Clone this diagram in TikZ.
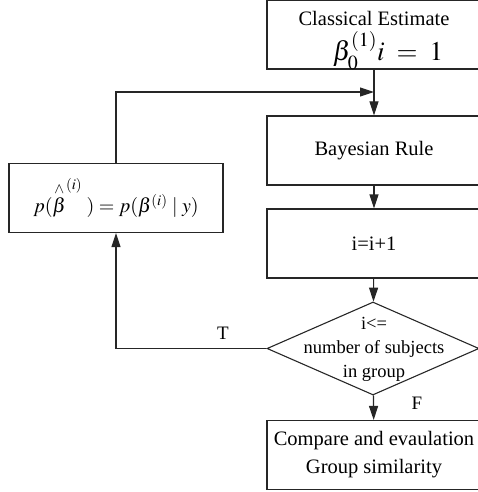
\documentclass[tikz,border=0pt]{standalone}
\usepackage{amsmath}
\usepackage{mathptmx}
\usepackage[no-math]{fontspec}
\setmainfont{Liberation Serif}
\usepackage{tikz}
\usetikzlibrary{
    arrows.meta,
    shapes.geometric,
    positioning,
}

\begin{document}
\begin{tikzpicture}[x=1pt,y=-1pt,>={Triangle[length=14pt,width=9pt]},auto]

    \tikzstyle{commonNode}=[font=\fontsize{20.5}{28}\selectfont, align=center, line width=1.1pt, draw=black!85]
    \tikzstyle{block}=[commonNode, rectangle, minimum width=214pt, minimum height=69pt, inner sep=0pt]
    \tikzstyle{decision}=[commonNode, diamond, minimum width=212pt, minimum height=93pt, inner sep=0pt]
    \tikzstyle{flow}=[->, line width=1.1pt, draw=black!85]
    \tikzstyle{plain}=[font=\fontsize{20.5}{28}\selectfont, inner sep=0pt]
    \tikzstyle{branch}=[font=\fontsize{19}{22}\selectfont]

    % Page size, the boxes run off the right edge
    \useasboundingbox (0,0) rectangle (478,492);
    \clip (0,0) rectangle (478,492);

    % Main column
    \node at (374,34.5)  [block]    (est)    {};
    \node at (374,26)    [plain, anchor=base] (esttitle) {Classical Estimate};
    \node at (388,61)    [plain, anchor=base, font=\fontsize{27}{30}\selectfont] (estformula) {$\beta_0^{(1)}i\;=\;1$};
    \node at (374,150.5) [block]    (bayes)  {Bayesian Rule};
    \node at (374,243.5) [block]    (inc)    {i=i+1};
    \node at (373,348.5) [decision] (cond)   {};
    \node at (374,349)   [font=\fontsize{18.5}{24}\selectfont, align=center] (condtxt) {i<=\\number of subjects\\in group};
    \node at (374,455)   [block]    (cmp)    {Compare and evaulation\\Group similarity};

    % Feedback box
    \node at (116,198)   [block]    (post)   {\fontsize{20}{24}\selectfont$p(\overset{\wedge}{\beta}^{(i)}\;)=p(\beta^{(i)}\;|\;y)$};
    \coordinate (join) at (374,92);

    % Connectors
    \draw [flow] (est) -- (bayes);
    \draw [flow] (post.north) |- (join);
    \draw [flow] (bayes) -- (inc);
    \draw [flow] (inc) -- (cond);
    \draw [flow] (cond) -- (cmp);
    \draw [flow] (cond.west) -| (post.south);

    % Branch labels
    \node at (223,333) [branch] (tlabel) {T};
    \node at (417,403) [branch] (flabel) {F};

\end{tikzpicture}
\end{document}
